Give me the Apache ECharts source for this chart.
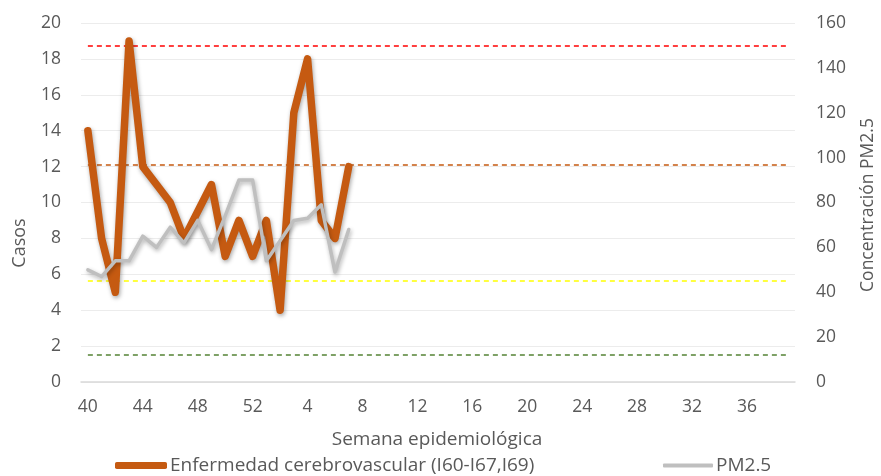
<!DOCTYPE html>
<html lang="es">
<head>
<meta charset="utf-8">
<title>Enfermedad cerebrovascular y PM2.5 por semana epidemiológica</title>
<script src="https://cdn.jsdelivr.net/npm/echarts@6/dist/echarts.min.js"></script>
<style>
  html, body { margin: 0; padding: 0; background: #ffffff; }
  #chart { width: 881px; height: 476px; }
</style>
</head>
<body>
<div id="chart"></div>
<script>
// Semanas epidemiológicas: 40 a 52 y luego 1 a 39
const semanas = [
  '40','41','42','43','44','45','46','47','48','49','50','51','52',
  '1','2','3','4','5','6','7','8','9','10','11','12','13','14','15','16','17','18','19','20',
  '21','22','23','24','25','26','27','28','29','30','31','32','33','34','35','36','37','38','39'
];

// Casos semanales de enfermedad cerebrovascular (I60-I67, I69)
const casos = [14, 8, 5, 19, 12, 11, 10, 8, 9.5, 11, 7, 9, 7, 9, 4, 15, 18, 9, 8, 12];

// Concentración semanal de PM2.5
const pm25 = [50, 47, 54, 54, 65, 60, 69, 62, 72, 59, 74, 90, 90, 54, 63, 72, 73, 79, 49, 68];

// Umbrales de referencia de PM2.5 (eje derecho) y su color
const umbralesPM25 = [150, 97, 45, 12];
const coloresUmbral = ['#FF0000', '#C55A11', '#FFFF00', '#548235'];

const nombreCasos = 'Enfermedad cerebrovascular (I60-I67,I69)';
const nombrePM = 'PM2.5';

const fuente = '"Open Sans", "Noto Sans", sans-serif';
const gris = '#595959';

const chart = echarts.init(document.getElementById('chart'), null, { renderer: 'canvas' });

const lineasUmbral = umbralesPM25.map((v, i) => ([
  { xAxis: semanas[0], yAxis: v, lineStyle: { color: coloresUmbral[i], type: [5, 4], width: 1.5 } },
  { xAxis: semanas[semanas.length - 1], yAxis: v }
]));

chart.setOption({
  animation: false,
  backgroundColor: '#ffffff',
  textStyle: { fontFamily: fuente },
  grid: { left: 81, right: 86, top: 23, bottom: 94, containLabel: false },
  xAxis: {
    type: 'category',
    data: semanas,
    boundaryGap: true,
    axisLine: { show: true, lineStyle: { color: '#d9d9d9', width: 1.5 } },
    axisTick: { show: false },
    axisLabel: { interval: 3, color: gris, fontSize: 17.5, fontFamily: fuente, margin: 16 },
    splitLine: { show: false }
  },
  yAxis: [
    {
      type: 'value', min: 0, max: 20, interval: 2,
      axisLine: { show: false }, axisTick: { show: false },
      axisLabel: { color: gris, fontSize: 17.5, fontFamily: fuente, margin: 20 },
      splitLine: { show: true, lineStyle: { color: '#ececec', width: 1.2 } }
    },
    {
      type: 'value', min: 0, max: 160, interval: 20, position: 'right',
      axisLine: { show: false }, axisTick: { show: false },
      axisLabel: { color: gris, fontSize: 17.5, fontFamily: fuente, margin: 21 },
      splitLine: { show: false }
    }
  ],
  legend: [
    {
      data: [nombreCasos], left: 115, top: 456, padding: 0,
      icon: 'roundRect', itemWidth: 52, itemHeight: 7, itemGap: 0,
      textStyle: { color: gris, fontSize: 19, fontFamily: fuente, padding: [0, 0, 0, -2] }
    },
    {
      data: [nombrePM], left: 663, top: 456, padding: 0,
      icon: 'roundRect', itemWidth: 50, itemHeight: 4, itemGap: 0,
      textStyle: { color: gris, fontSize: 19, fontFamily: fuente, padding: [0, 0, 0, -2] }
    }
  ],
  series: [
    {
      name: nombreCasos,
      type: 'line',
      yAxisIndex: 0,
      data: casos,
      symbol: 'none',
      z: 3,
      itemStyle: { color: '#C55A11' },
      lineStyle: {
        color: '#C55A11', width: 7.5, cap: 'round', join: 'round',
        shadowColor: 'rgba(0,0,0,0.35)', shadowBlur: 4, shadowOffsetX: 1, shadowOffsetY: 2
      }
    },
    {
      name: nombrePM,
      type: 'line',
      yAxisIndex: 1,
      data: pm25,
      symbol: 'none',
      z: 4,
      itemStyle: { color: '#BFBFBF' },
      lineStyle: {
        color: '#BFBFBF', width: 3.5, cap: 'round', join: 'round',
        shadowColor: 'rgba(0,0,0,0.3)', shadowBlur: 4, shadowOffsetX: 1, shadowOffsetY: 2
      },
      markLine: {
        silent: true,
        symbol: 'none',
        label: { show: false },
        z: 2,
        data: lineasUmbral
      }
    }
  ],
  graphic: [
    {
      type: 'text', x: 20, y: 243, rotation: Math.PI / 2,
      style: { text: 'Casos', fill: gris, fontSize: 18, fontFamily: fuente, textAlign: 'center', textVerticalAlign: 'middle' }
    },
    {
      type: 'text', x: 868, y: 205, rotation: Math.PI / 2,
      style: { text: 'Concentración PM2.5', fill: gris, fontSize: 17.5, fontFamily: fuente, textAlign: 'center', textVerticalAlign: 'middle' }
    },
    {
      type: 'text', x: 437, y: 440,
      style: { text: 'Semana epidemiológica', fill: gris, fontSize: 19, fontFamily: fuente, textAlign: 'center', textVerticalAlign: 'middle' }
    }
  ]
});
</script>
</body>
</html>
